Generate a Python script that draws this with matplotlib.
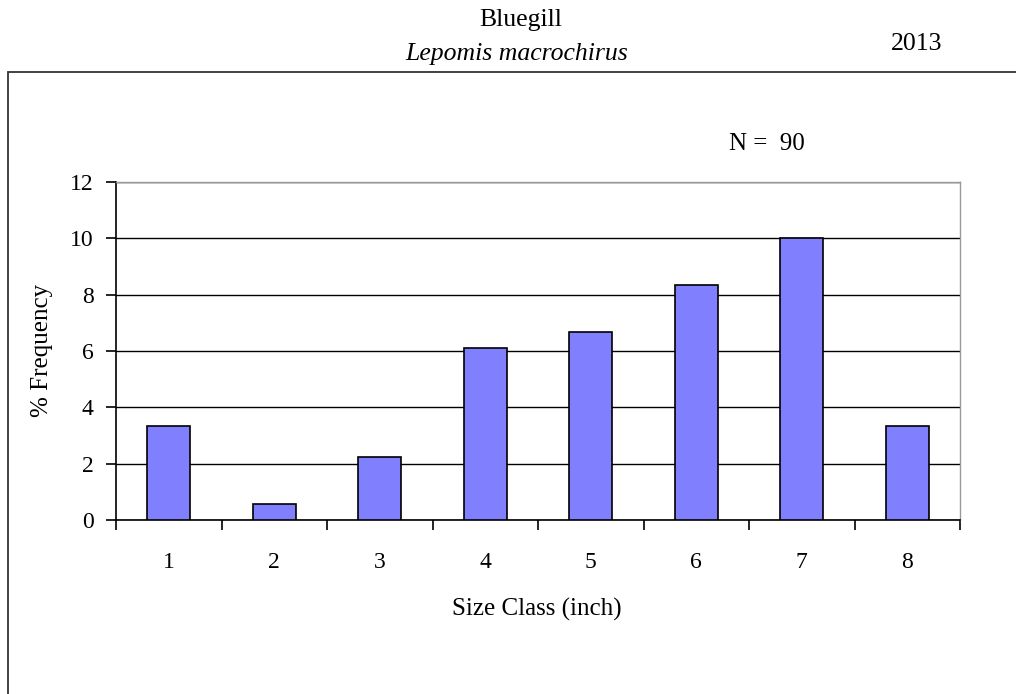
import matplotlib
matplotlib.use("Agg")
import matplotlib.pyplot as plt
from matplotlib.patches import Rectangle

categories = ["1", "2", "3", "4", "5", "6", "7", "8"]
values = [3.33, 0.56, 2.22, 6.11, 6.67, 8.33, 10.0, 3.33]
yticks = [0, 2, 4, 6, 8, 10, 12]

plt.rcParams['font.family'] = ['Liberation Serif', 'DejaVu Serif']

W, H = 1016, 694
fig = plt.figure(figsize=(W/100, H/100), dpi=100)

# outer box
fig.patches.append(Rectangle((8/W, -0.1), 1.1, 1 - 72/H + 0.1, transform=fig.transFigure,
                             fill=False, edgecolor='#333333', linewidth=1.3))

ax = fig.add_axes([116/W, 1 - 520/H, (960-116)/W, (520-182)/H])
x = list(range(len(categories)))
ax.bar(x, values, width=0.41, color='#8080FF', edgecolor='black', linewidth=1.2, zorder=3)
ax.set_xlim(-0.5, len(categories) - 0.5)
ax.set_ylim(0, 12)
ax.set_yticks(yticks)
ax.set_yticklabels([str(t) for t in yticks], fontsize=17)
ax.yaxis.grid(True, color='black', linewidth=1.0, zorder=0)
ax.set_axisbelow(True)

ax.set_xticks(x)
ax.set_xticklabels(categories, fontsize=17)
ax.tick_params(axis='x', length=0, pad=23)
ax.set_xticks([i - 0.5 for i in range(len(categories) + 1)], minor=True)
ax.tick_params(axis='x', which='minor', length=7, width=1.2, direction='out', color='black')
ax.tick_params(axis='y', length=7, width=1.2, direction='out', pad=9)

for s in ['top', 'right']:
    ax.spines[s].set_color('#999999')
    ax.spines[s].set_linewidth(1.0)
for s in ['left', 'bottom']:
    ax.spines[s].set_color('black')
    ax.spines[s].set_linewidth(1.2)

ax.set_xlabel("Size Class (inch)", fontsize=18, va='center')
ax.xaxis.set_label_coords(0.5 + (537 - 538) / 844, (520 - 609) / 338)
ax.set_ylabel("% Frequency", fontsize=18, va='center')
ax.yaxis.set_label_coords((42 - 116) / 844, (520 - 350) / 338)

fig.text(521/W, 1 - 20/H, "Bluegill", ha='center', va='center', fontsize=18.5)
fig.text(517/W, 1 - 54/H, "Lepomis macrochirus", ha='center', va='center', fontsize=18.5, style='italic')
fig.text(917/W, 1 - 44/H, "2013", ha='center', va='center', fontsize=18.5)
fig.text(767/W, 1 - 144/H, "N =  90", ha='center', va='center', fontsize=18)

fig.savefig("out.png", dpi=100)
